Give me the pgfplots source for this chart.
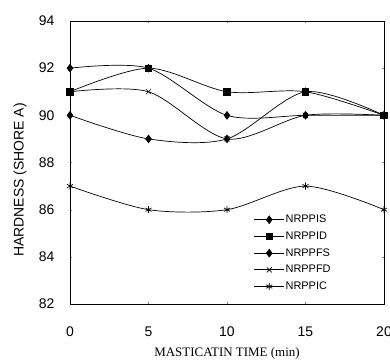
\documentclass[border=0pt]{standalone}
\usepackage{fontspec}
\setmainfont{Liberation Sans}
\newfontfamily\seriffont{Liberation Serif}
\usepackage{pgfplots}
\pgfplotsset{compat=1.18}
\begin{document}
\begin{tikzpicture}
\useasboundingbox (0,0) rectangle (390bp,362bp);
\begin{axis}[
  at={(70bp,58bp)}, anchor=south west,
  scale only axis, width=314bp, height=283bp,
  xmin=0, xmax=20, ymin=82, ymax=94,
  xtick={0,5,10,15,20}, ytick={82,84,86,88,90,92,94},
  tick align=inside, major tick length=2bp,
  axis line style={line width=0.8bp},
  /pgf/number format/assume math mode=true,
  ticklabel style={font=\fontsize{14}{16}\selectfont},
  yticklabel style={xshift=-12bp},
  xticklabel style={yshift=-19bp},
  xlabel={\seriffont MASTICATIN TIME (min)},
  xlabel style={font=\fontsize{13}{15}\selectfont, at={(axis description cs:0.5,0)}, anchor=north, yshift=-40bp},
  ylabel={HARDNESS (SHORE A)},
  ylabel style={font=\fontsize{14}{16}\selectfont, at={(axis description cs:-0.159,0.438)}, anchor=center},
  legend style={at={(0.585,0.318)}, anchor=north west, draw=none, fill=none,
    font=\fontsize{11}{12}\selectfont, inner sep=0pt, row sep=5.6bp,
    nodes={inner sep=1pt}},
  legend cell align=left,
  legend image code/.code={\draw[mark repeat=2,mark phase=2,#1] plot coordinates {(0bp,0bp)(15bp,0bp)(30bp,0bp)};},
]
\addplot[black, line width=0.7bp, smooth, mark=diamond*, mark size=3.8bp] coordinates {(0,92)(5,92)(10,90)(15,90)(20,90)};
\addlegendentry{NRPPIS}
\addplot[black, line width=0.7bp, smooth, mark=square*, mark size=3.2bp] coordinates {(0,91)(5,92)(10,91)(15,91)(20,90)};
\addlegendentry{NRPPID}
\addplot[black, line width=0.7bp, smooth, mark=diamond*, mark size=3.8bp] coordinates {(0,90)(5,89)(10,89)(15,91)(20,90)};
\addlegendentry{NRPPFS}
\addplot[black, line width=0.7bp, smooth, mark=x, mark size=3.5bp] coordinates {(0,91)(5,91)(10,89)(15,90)(20,90)};
\addlegendentry{NRPPFD}
\addplot[black, line width=0.7bp, smooth, mark=asterisk, mark size=3.5bp] coordinates {(0,87)(5,86)(10,86)(15,87)(20,86)};
\addlegendentry{NRPPIC}
\end{axis}
\end{tikzpicture}
\end{document}
